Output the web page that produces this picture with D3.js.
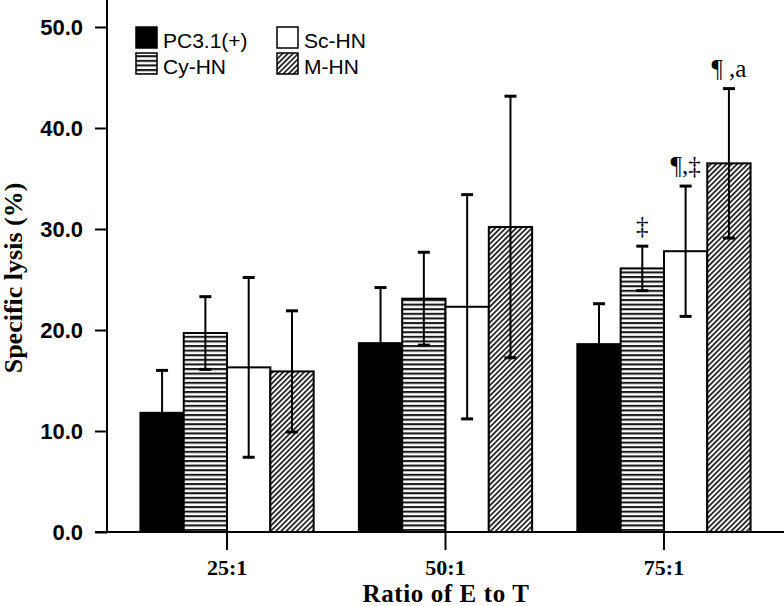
<!DOCTYPE html>
<html>
<head>
<meta charset="utf-8">
<script src="https://cdn.jsdelivr.net/npm/d3@7"></script>
<style>
html,body{margin:0;padding:0;background:#fff;}
svg{display:block;}
</style>
</head>
<body>
<svg id="chart" width="784" height="606"></svg>
<script>
const categories = ["25:1", "50:1", "75:1"];
const seriesNames = ["PC3.1(+)", "Cy-HN", "Sc-HN", "M-HN"];
const pcValues = [11.8, 18.7, 18.6];
const pcErr    = [4.2, 5.5, 4.0];
const cyValues = [19.7, 23.1, 26.1];
const cyErr    = [3.6, 4.6, 2.2];
const scValues = [16.3, 22.3, 27.8];
const scErr    = [8.9, 11.1, 6.45];
const mValues  = [15.9, 30.2, 36.5];
const mErr     = [6.0, 12.95, 7.4];
const yTicks = [0, 10, 20, 30, 40, 50];
const annotations = [
  {cat: "75:1", series: "Cy-HN", text: "‡"},
  {cat: "75:1", series: "Sc-HN", text: "¶,‡"},
  {cat: "75:1", series: "M-HN", text: "¶ ,a"}
];

const valuesBySeries = [pcValues, cyValues, scValues, mValues];
const errBySeries = [pcErr, cyErr, scErr, mErr];
const data = [];
categories.forEach((c, ci) => {
  seriesNames.forEach((s, si) => {
    data.push({cat: c, series: s, value: valuesBySeries[si][ci], err: errBySeries[si][ci]});
  });
});

const INK = "#000";
const svg = d3.select("#chart");
const defs = svg.append("defs");

// horizontal stripes
const ph = defs.append("pattern").attr("id", "hstripe")
  .attr("patternUnits", "userSpaceOnUse").attr("width", 8).attr("height", 4.6);
ph.append("rect").attr("width", 8).attr("height", 4.6).attr("fill", "#fff");
ph.append("rect").attr("y", 0).attr("width", 8).attr("height", 2.1).attr("fill", "#1a1a1a");

// diagonal hatch
const pd = defs.append("pattern").attr("id", "dstripe")
  .attr("patternUnits", "userSpaceOnUse").attr("width", 3.7).attr("height", 10)
  .attr("patternTransform", "rotate(45)");
pd.append("rect").attr("width", 3.7).attr("height", 10).attr("fill", "#fff");
pd.append("rect").attr("x", 0).attr("width", 1.7).attr("height", 10).attr("fill", "#1a1a1a");

const fills = {"PC3.1(+)": INK, "Cy-HN": "url(#hstripe)", "Sc-HN": "#fff", "M-HN": "url(#dstripe)"};

const x0 = d3.scaleBand().domain(categories).range([107, 784]).paddingInner(0.207).paddingOuter(0.153);
const x1 = d3.scaleBand().domain(seriesNames).range([0, x0.bandwidth()]).padding(0);
const y = d3.scaleLinear().domain([0, 50]).range([532, 27]);

// bars
svg.append("g").selectAll("rect").data(data).join("rect")
  .attr("x", d => x0(d.cat) + x1(d.series))
  .attr("y", d => y(d.value))
  .attr("width", x1.bandwidth())
  .attr("height", d => y(0) - y(d.value))
  .attr("fill", d => fills[d.series])
  .attr("stroke", INK).attr("stroke-width", 2);

// error bars
const eg = svg.append("g").attr("stroke", INK);
data.forEach(d => {
  const cx = x0(d.cat) + x1(d.series) + x1.bandwidth() / 2;
  eg.append("line").attr("x1", cx).attr("x2", cx)
    .attr("y1", y(d.value + d.err)).attr("y2", y(d.value - d.err)).attr("stroke-width", 2);
  [d.value + d.err, d.value - d.err].forEach(v => {
    eg.append("line").attr("x1", cx - 6).attr("x2", cx + 6)
      .attr("y1", y(v)).attr("y2", y(v)).attr("stroke-width", 3);
  });
});

// annotations
annotations.forEach(a => {
  const d = data.find(e => e.cat === a.cat && e.series === a.series);
  const cx = x0(d.cat) + x1(d.series) + x1.bandwidth() / 2;
  svg.append("text").attr("x", cx).attr("y", y(d.value + d.err) - 12)
    .attr("text-anchor", "middle")
    .attr("font-family", "Liberation Serif, serif").attr("font-size", 25)
    .attr("fill", INK).text(a.text);
});

// y axis
const yAxis = d3.axisLeft(y).tickValues(yTicks).tickFormat(d3.format(".1f")).tickSize(12).tickPadding(12);
const yg = svg.append("g").attr("transform", "translate(107,0)").call(yAxis);
yg.select(".domain").remove();
yg.selectAll(".tick line").attr("stroke", INK).attr("stroke-width", 2);
yg.selectAll(".tick text").attr("font-family", "Liberation Sans, Arial, sans-serif")
  .attr("font-weight", "bold").attr("font-size", 22).attr("fill", INK);
svg.append("line").attr("x1", 107).attr("x2", 107).attr("y1", 0).attr("y2", 533)
  .attr("stroke", INK).attr("stroke-width", 2);

// x axis
const xAxis = d3.axisBottom(x0).tickSize(18).tickPadding(9);
const xg = svg.append("g").attr("transform", "translate(0,532)").call(xAxis);
xg.select(".domain").remove();
xg.selectAll(".tick line").attr("stroke", INK).attr("stroke-width", 2);
xg.selectAll(".tick text").attr("font-family", "Liberation Serif, Times New Roman, serif")
  .attr("font-weight", "bold").attr("font-size", 22).attr("fill", INK);
svg.append("line").attr("x1", 95).attr("x2", 784).attr("y1", 532).attr("y2", 532)
  .attr("stroke", INK).attr("stroke-width", 2);

// axis titles
svg.append("text").attr("x", 446).attr("y", 602).attr("text-anchor", "middle")
  .attr("font-family", "Liberation Serif, Times New Roman, serif")
  .attr("font-weight", "bold").attr("font-size", 25).attr("letter-spacing", 0.6).attr("fill", INK)
  .text("Ratio of E to T");
svg.append("text").attr("transform", "translate(22,278) rotate(-90)").attr("text-anchor", "middle")
  .attr("font-family", "Liberation Serif, Times New Roman, serif")
  .attr("font-weight", "bold").attr("font-size", 26).attr("fill", INK)
  .text("Specific lysis (%)");

// legend
const legendPos = [[136, 27], [277, 27], [136, 53], [277, 53]];
const legendOrder = ["PC3.1(+)", "Sc-HN", "Cy-HN", "M-HN"];
legendOrder.forEach((s, i) => {
  const [lx, ly] = legendPos[i];
  svg.append("rect").attr("x", lx).attr("y", ly).attr("width", 21).attr("height", 21)
    .attr("fill", fills[s]).attr("stroke", INK).attr("stroke-width", 1.5);
  svg.append("text").attr("x", lx + 27).attr("y", ly + 21)
    .attr("font-family", "Liberation Sans, Arial, sans-serif").attr("font-size", 21)
    .attr("fill", INK).text(s);
});
</script>
</body>
</html>
